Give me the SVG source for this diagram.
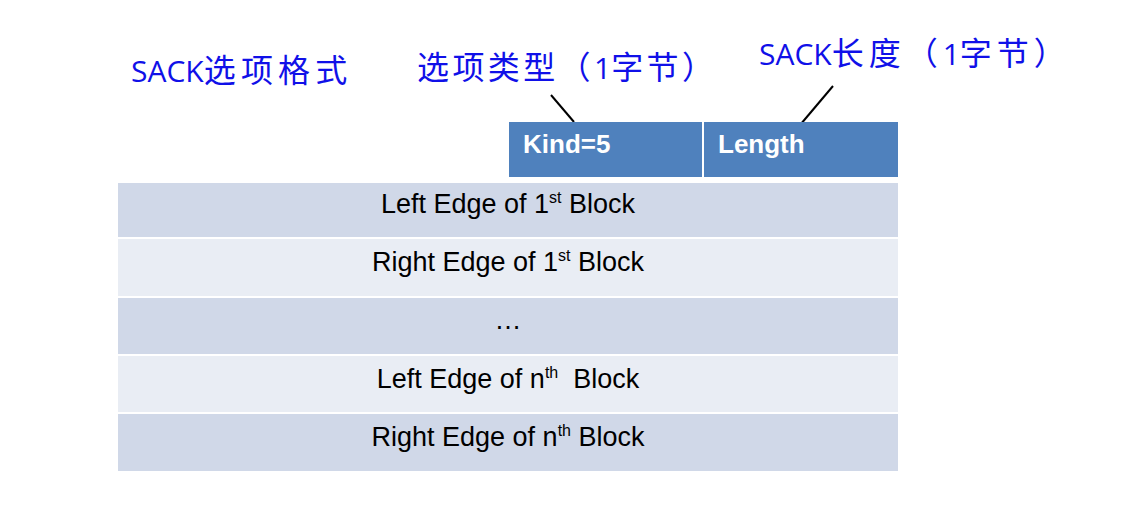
<svg xmlns="http://www.w3.org/2000/svg" width="1126" height="508" viewBox="0 0 1126 508">
<style>
.hdr{fill:#4F81BD}
.rowA{fill:#D0D8E8}
.rowB{fill:#E9EDF4}
.htxt{font-family:"Liberation Sans",Arial,sans-serif;font-weight:bold;font-size:26px;fill:#FFFFFF}
.rtxt{font-family:"Liberation Sans",Arial,sans-serif;font-size:27px;fill:#000000;white-space:pre}
.sup{font-size:16px}
.note{font-family:"Open Sans","Noto Sans CJK SC",sans-serif;font-size:30px;fill:#1010E8}
.cjk{font-family:"Noto Sans CJK SC",sans-serif;font-size:32px}
.lead{stroke:#000000;stroke-width:2;fill:none}
</style>
<rect width="1126" height="508" fill="#FFFFFF"/>
<g id="title">
<text class="note" x="131" y="82">SACK<tspan class="cjk" style="letter-spacing:5.2px">选项格式</tspan></text>
</g>
<g id="label-kind">
<text class="note" x="417" y="79"><tspan class="cjk" style="letter-spacing:3.4px">选项类型（</tspan>1<tspan class="cjk" style="letter-spacing:3.4px">字节）</tspan></text>
</g>
<g id="label-length">
<text class="note" x="759" y="65">SACK<tspan class="cjk" style="letter-spacing:5px">长度（</tspan>1<tspan class="cjk" style="letter-spacing:5px">字节）</tspan></text>
</g>
<g id="connectors">
<line class="lead" x1="551" y1="95" x2="574" y2="122"/>
<line class="lead" x1="833" y1="86" x2="795" y2="131"/>
</g>
<g id="kind">
<rect class="hdr" x="509" y="122" width="193" height="55"/>
<text class="htxt" x="523" y="153">Kind=5</text>
</g>
<g id="length">
<rect class="hdr" x="704" y="122" width="194" height="55"/>
<text class="htxt" x="718" y="153">Length</text>
</g>
<g id="row1">
<rect class="rowA" x="118" y="183" width="780" height="54"/>
<text class="rtxt" x="508" y="213" text-anchor="middle">Left Edge of 1<tspan class="sup" dy="-10">st</tspan><tspan dy="10"> Block</tspan></text>
</g>
<g id="row2">
<rect class="rowB" x="118" y="239" width="780" height="57"/>
<text class="rtxt" x="508" y="271" text-anchor="middle">Right Edge of 1<tspan class="sup" dy="-10">st</tspan><tspan dy="10"> Block</tspan></text>
</g>
<g id="row3">
<rect class="rowA" x="118" y="298" width="780" height="56"/>
<text class="rtxt" x="508" y="329" text-anchor="middle">…</text>
</g>
<g id="row4">
<rect class="rowB" x="118" y="356" width="780" height="56"/>
<text class="rtxt" x="508" y="388" text-anchor="middle">Left Edge of n<tspan class="sup" dy="-10">th</tspan><tspan dy="10">  Block</tspan></text>
</g>
<g id="row5">
<rect class="rowA" x="118" y="414" width="780" height="57"/>
<text class="rtxt" x="508" y="446" text-anchor="middle">Right Edge of n<tspan class="sup" dy="-10">th</tspan><tspan dy="10"> Block</tspan></text>
</g>
</svg>
